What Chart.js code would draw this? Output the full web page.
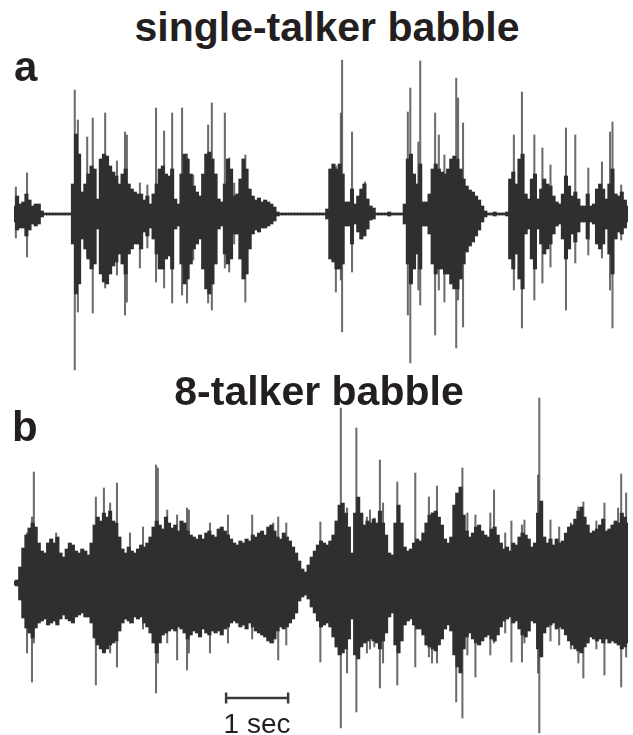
<!DOCTYPE html>
<html>
<head>
<meta charset="utf-8">
<script src="https://cdn.jsdelivr.net/npm/chart.js@4/dist/chart.umd.min.js"></script>
<style>
  html, body { margin: 0; padding: 0; background: #fff; overflow: hidden; }
  #page { position: relative; width: 633px; height: 735px; }
  canvas { position: absolute; left: 0; }
  .txt { position: absolute; white-space: nowrap; line-height: 1; color: #231f20; font-family: "Liberation Sans", Arial, sans-serif; }
  .title { font-weight: bold; font-size: 41px; transform: translateX(-50%); }
  .panel { font-weight: bold; font-size: 42px; }
  .scale { font-size: 28px; transform: translateX(-50%); }
</style>
</head>
<body>
<div id="page">
  <canvas id="waveA" width="633" height="330" style="top:50px"></canvas>
  <canvas id="waveB" width="633" height="340" style="top:395px"></canvas>
  <div class="txt title" style="left:327px; top:7px">single-talker babble</div>
  <div class="txt title" style="left:319px; top:371px">8-talker babble</div>
  <div class="txt panel" style="left:14px; top:46px">a</div>
  <div class="txt panel" style="left:12px; top:406px">b</div>
  <div class="txt scale" style="left:257px; top:710px">1 sec</div>
</div>
<script>
// envelope of each recording, one column every 0.05 s (amplitude, arbitrary units)
const step = 0.05;

const aUpper = [
  8, 18, 10, 12, 20, 14, 8, 10, 10, 3,
  1, 1, 1, 1, 1, 1, 1, 1, 1,
  30, 80, 60, 22, 30, 40, 48, 45, 15,
  55, 60, 58, 48, 42, 38, 30, 40, 45,
  30, 25, 22, 20, 20, 14, 18, 10, 20,
  30, 45, 48, 40, 38, 45, 15, 10, 40,
  60, 55, 40, 28, 22, 18, 40, 60, 62,
  55, 40, 15, 12, 30, 55, 45, 18, 20,
  35, 55, 45, 25, 18, 14, 16, 12, 14,
  12, 10, 7, 2,
  1, 1, 1, 1, 1, 1, 1, 1, 1, 1, 1, 1, 1, 1, 1,
  5, 45, 50, 45, 50, 40,
  12, 12, 25, 10, 18, 25, 30, 15, 8, 6,
  1, 1, 1, 1, 2, 1, 1, 1, 1,
  10, 55, 60, 40, 30, 50, 12, 12, 20,
  45, 50, 45, 42, 40, 45, 55, 58, 55, 45, 35,
  28, 24, 22, 18, 14, 8, 3,
  1, 1, 2, 1, 1, 1,
  2, 35, 42, 30, 55, 60, 20, 15,
  35, 40, 15, 25, 35, 30, 28, 18, 12, 10,
  20, 38, 28, 18, 22, 15, 8, 8,
  20, 8, 10, 25, 30, 25, 15,
  30, 45, 20, 18, 22, 14, 8
];
const aLower = [
  8, 16, 14, 14, 22, 16, 10, 12, 10, 3,
  1, 1, 1, 1, 1, 1, 1, 1, 1,
  30, 80, 70, 25, 35, 45, 55, 50, 15,
  60, 68, 70, 60, 52, 48, 40, 50, 60,
  40, 35, 30, 30, 35, 18, 22, 14, 25,
  40, 55, 55, 45, 42, 55, 15, 12, 50,
  70, 65, 50, 35, 30, 25, 55, 75, 80,
  70, 50, 15, 12, 40, 50, 45, 20, 20,
  45, 65, 60, 35, 20, 16, 18, 14, 14,
  12, 10, 7, 2,
  1, 1, 1, 1, 1, 1, 1, 1, 1, 1, 1, 1, 1, 1, 1,
  5, 45, 48, 55, 55, 50,
  12, 12, 30, 10, 18, 25, 22, 15, 6, 5,
  1, 1, 1, 1, 2, 1, 1, 1, 1,
  10, 50, 70, 55, 40, 55, 12, 12, 20,
  50, 60, 55, 55, 60, 60, 70, 75, 75, 65, 50,
  38, 32, 28, 22, 16, 8, 3,
  1, 1, 2, 1, 1, 1,
  2, 45, 55, 40, 65, 75, 20, 15,
  45, 55, 15, 30, 40, 35, 30, 20, 12, 10,
  25, 45, 35, 20, 28, 18, 8, 8,
  25, 8, 10, 30, 35, 30, 15,
  40, 60, 25, 18, 20, 14, 8
];

// single tall peaks: time (s), positive peak, negative peak depth
const aSpikeTime = [0.03, 0.21, 0.98, 1.03, 1.18, 1.27, 1.47, 1.66, 1.79, 1.82, 2.03, 2.15, 2.29, 2.42,
  2.55, 2.71, 2.79, 2.89, 3.13, 3.19, 3.40, 3.47, 3.55, 3.73, 5.19, 5.27, 5.29, 5.45, 5.66,
  6.35, 6.39, 6.52, 6.55, 6.79, 6.85, 6.94, 7.13, 7.16, 7.24, 8.06, 8.19, 8.39, 8.52, 8.65,
  8.90, 9.05, 9.26, 9.48, 9.61, 9.65, 9.79];
const aSpikeHigh = [27, 41, 124, 94, 77, 96, 101, 53, 82, 79, 31, 29, 106, 83,
  101, 106, 60, 39, 89, 111, 101, 56, 31, 59, 48, 101, 154, 82, 32,
  102, 126, 72, 153, 101, 79, 59, 136, 116, 91, 79, 122, 79, 66, 49,
  86, 79, 46, 52, 82, 92, 29];
const aSpikeLow = [24, 43, 156, 98, 43, 99, 74, 61, 101, 88, 54, 34, 68, 74,
  89, 81, 89, 46, 89, 96, 54, 58, 30, 88, 78, 66, 118, 58, 18,
  101, 149, 76, 91, 121, 76, 88, 134, 86, 113, 76, 114, 86, 69, 53,
  96, 49, 41, 44, 76, 114, 26];

const bUpper = [
  2, 3, 16, 35, 48, 55, 60, 56, 40, 32,
  30, 40, 44, 40, 46, 30, 26, 34, 40, 38,
  32, 30, 34, 32, 28, 40, 58, 66, 62, 70,
  66, 72, 62, 60, 46, 34, 30, 36, 32, 30,
  34, 38, 36, 40, 46, 56, 62, 58, 54, 66,
  60, 55, 58, 52, 62, 60, 52, 48, 46, 44,
  48, 44, 50, 52, 48, 46, 54, 56, 52, 48,
  44, 40, 38, 42, 40, 44, 42, 48, 46, 50,
  52, 48, 56, 58, 52, 46, 44, 50, 46, 42,
  36, 30, 22, 14, 11, 18, 26, 32, 38, 42,
  40, 38, 42, 48, 62, 78, 80, 70, 56, 30,
  70, 86, 70, 58, 62, 60, 64, 60, 72, 60,
  48, 30, 28, 60, 78, 60, 36, 32, 34, 40,
  44, 42, 50, 60, 68, 70, 72, 66, 58, 44,
  40, 46, 78, 90, 96, 68, 52, 46, 50, 56,
  58, 52, 48, 46, 54, 56, 48, 40, 34, 36,
  32, 40, 38, 46, 50, 48, 44, 36, 40, 70,
  82, 46, 40, 44, 38, 44, 40, 42, 50, 56,
  58, 64, 72, 76, 66, 58, 50, 52, 54, 58,
  64, 52, 54, 58, 62, 60, 70, 66, 60
];
const bLower = [
  2, 3, 17, 35, 45, 50, 55, 45, 40, 38,
  36, 42, 40, 38, 42, 36, 32, 36, 38, 40,
  34, 32, 30, 34, 34, 40, 55, 62, 66, 70,
  66, 62, 60, 58, 48, 40, 36, 38, 40, 34,
  36, 34, 40, 44, 50, 60, 70, 60, 52, 50,
  48, 46, 48, 44, 46, 50, 56, 52, 48, 50,
  54, 46, 50, 52, 48, 50, 48, 52, 46, 44,
  40, 38, 40, 44, 42, 46, 40, 44, 48, 50,
  52, 54, 58, 60, 56, 48, 44, 46, 44, 40,
  36, 30, 18, 14, 12, 16, 24, 30, 38, 44,
  42, 40, 44, 54, 64, 72, 70, 66, 56, 36,
  72, 76, 64, 60, 58, 56, 58, 60, 66, 58,
  50, 34, 30, 62, 70, 58, 42, 38, 36, 42,
  46, 46, 52, 62, 64, 66, 68, 62, 56, 46,
  42, 48, 72, 84, 90, 66, 54, 50, 56, 60,
  62, 58, 54, 52, 56, 58, 52, 44, 38, 36,
  34, 40, 38, 46, 52, 54, 48, 38, 40, 66,
  74, 50, 44, 42, 40, 46, 44, 46, 52, 58,
  62, 66, 68, 70, 64, 60, 54, 56, 58, 56,
  60, 56, 60, 58, 60, 62, 66, 64, 60
];

const bSpikeTime = [0.21, 0.29, 0.32, 0.68, 1.32, 1.45, 1.55, 1.66, 1.87, 2.08, 2.29, 2.32, 2.47,
  2.63, 2.79, 2.82, 3.16, 3.45, 3.84, 4.18, 4.26, 4.39, 4.94, 5.27, 5.37, 5.52, 5.69, 5.74,
  5.81, 5.90, 5.95, 6.18, 6.47, 6.69, 6.74, 6.82, 7.13, 7.23, 7.31, 7.44, 7.68, 7.74, 7.92,
  8.02, 8.19, 8.23, 8.45, 8.47, 8.65, 8.79, 8.98, 9.10, 9.18, 9.39, 9.52, 9.74, 9.79, 9.87];
const bSpikeHigh = [50, 66, 111, 50, 86, 95, 80, 100, 50, 56, 118, 115, 73,
  68, 75, 73, 60, 68, 68, 60, 66, 60, 61, 175, 75, 155, 66, 73,
  65, 123, 80, 101, 110, 86, 70, 97, 90, 115, 70, 68, 70, 93, 50,
  62, 58, 63, 108, 185, 63, 56, 60, 76, 81, 62, 80, 75, 109, 90];
const bSpikeLow = [70, 99, 60, 40, 102, 60, 70, 84, 40, 46, 110, 80, 60,
  77, 87, 70, 70, 60, 56, 60, 77, 62, 79, 145, 90, 129, 70, 66,
  64, 105, 80, 102, 84, 74, 80, 80, 119, 135, 72, 94, 72, 60, 50,
  79, 79, 60, 90, 150, 58, 62, 66, 80, 95, 66, 92, 60, 104, 74];

// scale bar
const scaleBarStart = 3.42;
const scaleBarLength = 1;
const scaleBarLevel = -115;

const duration = 9.9;

function bodyPoints(upper, lower) {
  return upper.map((v, i) => ({ x: i * step, y: [-lower[i], v] }));
}

function spikePoints(times, high, low) {
  return times.map((t, i) => ({ x: t, y: [-low[i], high[i]] }));
}

const scaleBarPlugin = {
  id: "scaleBar",
  afterDatasetsDraw(chart, args, opts) {
    if (!opts.show) return;
    const ctx = chart.ctx;
    const x0 = chart.scales.x.getPixelForValue(scaleBarStart);
    const x1 = chart.scales.x.getPixelForValue(scaleBarStart + scaleBarLength);
    const y = chart.scales.y.getPixelForValue(scaleBarLevel);
    ctx.save();
    ctx.strokeStyle = "#3a3a3a";
    ctx.lineWidth = 2.5;
    ctx.beginPath();
    ctx.moveTo(x0, y); ctx.lineTo(x1, y);
    ctx.moveTo(x0, y - 5.5); ctx.lineTo(x0, y + 5.5);
    ctx.moveTo(x1, y - 5.5); ctx.lineTo(x1, y + 5.5);
    ctx.stroke();
    ctx.restore();
  }
};

function makeWave(id, upper, lower, sTime, sHigh, sLow, yMin, yMax, showBar) {
  return new Chart(document.getElementById(id), {
    type: "bar",
    data: {
      datasets: [
        {
          data: bodyPoints(upper, lower),
          backgroundColor: "#2f2f2f",
          barThickness: 3.4,
          grouped: false,
          order: 0
        },
        {
          data: spikePoints(sTime, sHigh, sLow),
          backgroundColor: "rgba(60, 60, 60, 0.75)",
          barThickness: 1.4,
          grouped: false,
          order: 1
        }
      ]
    },
    options: {
      responsive: false,
      animation: false,
      layout: { padding: { left: 14, right: 5, top: 0, bottom: 0 } },
      plugins: {
        legend: { display: false },
        tooltip: { enabled: false },
        scaleBar: { show: showBar }
      },
      scales: {
        x: { type: "linear", min: 0, max: duration, offset: false, display: false },
        y: { min: yMin, max: yMax, display: false }
      }
    },
    plugins: [scaleBarPlugin]
  });
}

makeWave("waveA", aUpper, aLower, aSpikeTime, aSpikeHigh, aSpikeLow, -166, 164, false);
makeWave("waveB", bUpper, bLower, bSpikeTime, bSpikeHigh, bSpikeLow, -152, 188, true);
</script>
</body>
</html>
